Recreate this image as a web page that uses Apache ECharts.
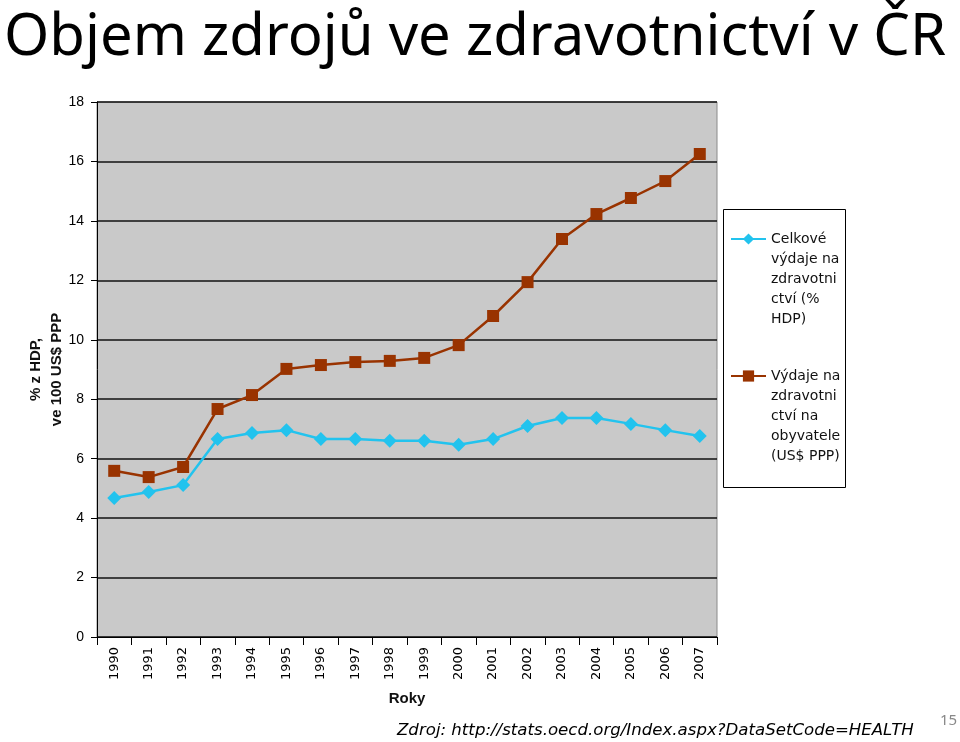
<!DOCTYPE html>
<html>
<head>
<meta charset="utf-8">
<script src="https://cdn.jsdelivr.net/npm/echarts@6/dist/echarts.min.js"></script>
<style>html,body{margin:0;padding:0;background:#fff;}#c{width:960px;height:742px;}</style>
</head>
<body>
<div id="c"></div>
<script>
const years = ['1990','1991','1992','1993','1994','1995','1996','1997','1998','1999','2000','2001','2002','2003','2004','2005','2006','2007'];
const nameGdp = 'Celkové\nvýdaje na\nzdravotni\nctví (%\nHDP)';
const namePerCap = 'Výdaje na\nzdravotni\nctví na\nobyvatele\n(US$ PPP)';
const gdpShare = [4.68, 4.88, 5.11, 6.66, 6.86, 6.96, 6.66, 6.66, 6.6, 6.6, 6.47, 6.66, 7.1, 7.37, 7.37, 7.17, 6.96, 6.76];
const perCapita = [5.59, 5.38, 5.72, 7.67, 8.14, 9.02, 9.15, 9.25, 9.29, 9.39, 9.82, 10.8, 11.94, 13.39, 14.23, 14.77, 15.34, 16.25];
const yTicks = { min: 0, max: 18, interval: 2 };
const titleText = 'Objem zdrojů ve zdravotnictví v ČR';
const sourceText = 'Zdroj: http://stats.oecd.org/Index.aspx?DataSetCode=HEALTH';
const pageNo = '15';

const chart = echarts.init(document.getElementById('c'), null, { renderer: 'canvas' });
const legendText = { fontFamily: 'DejaVu Sans', fontSize: 14, color: '#111', lineHeight: 20 };
// four blank lines in front so that the icon sits level with the first line of text
const legendFormatter = function (name) { return '\n\n\n\n' + name; };
chart.setOption({
  animation: false,
  backgroundColor: '#fff',
  title: {
    text: titleText, left: -1, top: 4,
    textStyle: { fontFamily: 'Noto Sans', fontSize: 58, fontWeight: 'normal', color: '#000' }
  },
  graphic: [
    { type: 'rect', left: 723, top: 209, z: 0, shape: { width: 122, height: 278 },
      style: { fill: '#fff', stroke: '#000', lineWidth: 1 } },
    { type: 'text', left: 397, top: 722, style: { text: sourceText, fontFamily: 'DejaVu Sans', fontStyle: 'italic', fontSize: 16.6, fill: '#000' } },
    { type: 'text', left: 940, top: 713, style: { text: pageNo, fontFamily: 'Noto Sans', fontSize: 15, fill: '#888' } }
  ],
  legend: [
    { data: [nameGdp], formatter: legendFormatter, orient: 'vertical', left: 730, top: 149, padding: 0, itemWidth: 35, itemHeight: 14, textStyle: legendText },
    { data: [namePerCap], formatter: legendFormatter, orient: 'vertical', left: 730, top: 286, padding: 0, itemWidth: 35, itemHeight: 14, textStyle: legendText }
  ],
  grid: {
    left: 97, right: 243, top: 102, bottom: 105, show: true,
    backgroundColor: '#c9c9c9', borderColor: '#8a8a8a', borderWidth: 1
  },
  xAxis: {
    type: 'category', data: years, boundaryGap: true,
    name: 'Roky', nameLocation: 'middle', nameGap: 54, nameMoveOverlap: false,
    nameTextStyle: { fontFamily: 'Liberation Sans', fontWeight: 'bold', fontSize: 15, color: '#111' },
    axisLine: { show: true, lineStyle: { color: '#000', width: 1 } },
    axisTick: { show: true, interval: 0, length: 8, lineStyle: { color: '#000' } },
    axisLabel: { interval: 0, rotate: 90, margin: 10, fontFamily: 'DejaVu Sans', fontSize: 13, color: '#000' },
    splitLine: { show: false }
  },
  yAxis: {
    type: 'value', min: yTicks.min, max: yTicks.max, interval: yTicks.interval,
    name: '% z HDP,\nve 100 US$ PPP', nameLocation: 'middle', nameRotate: 90, nameGap: 30, nameMoveOverlap: false,
    nameTextStyle: { fontFamily: 'Liberation Sans', fontWeight: 'bold', fontSize: 15, color: '#111', lineHeight: 21 },
    axisLine: { show: true, lineStyle: { color: '#000', width: 1 } },
    axisTick: { show: true, length: 6, lineStyle: { color: '#000' } },
    axisLabel: { margin: 13, fontFamily: 'Liberation Sans', fontSize: 14, color: '#000' },
    splitLine: { show: true, lineStyle: { color: '#111', width: 1.5 } }
  },
  series: [
    { name: nameGdp, type: 'line', data: gdpShare, symbol: 'diamond', symbolSize: 14,
      lineStyle: { color: '#22c3ee', width: 2.5 }, itemStyle: { color: '#22c3ee' } },
    { name: namePerCap, type: 'line', data: perCapita, symbol: 'rect', symbolSize: 12,
      lineStyle: { color: '#993300', width: 2.5 }, itemStyle: { color: '#993300' } }
  ]
});
</script>
</body>
</html>
